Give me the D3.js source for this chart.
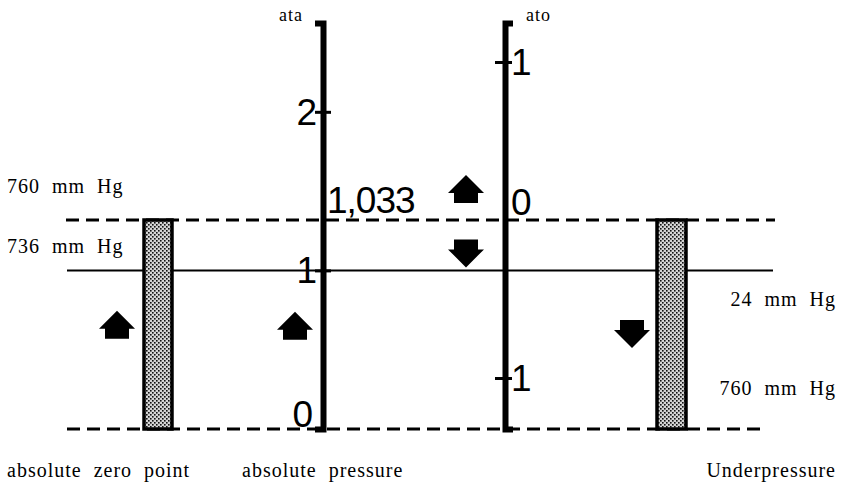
<!DOCTYPE html>
<html>
<head>
<meta charset="utf-8">
<style>
  html, body { margin: 0; padding: 0; background: #fff; }
  svg { display: block; }
  .lbl { font-family: "Liberation Serif", "Times New Roman", serif; font-size: 20px; letter-spacing: 1px; word-spacing: 6px; fill: #000; }
  .num { font-family: "Liberation Sans", Arial, sans-serif; font-size: 37px; fill: #000; }
  .axis .domain { stroke: #000; stroke-width: 6px; }
  .axis line { stroke: #000; stroke-width: 3px; }
  .axis text { font-family: "Liberation Sans", Arial, sans-serif; font-size: 37px; fill: #000; }
</style>
</head>
<body>
<div id="chart"></div>
<script src="https://cdn.jsdelivr.net/npm/d3@7"></script>
<script>

// values on the two pressure axes
var ataTicks = [0, 1, 2];
var atoTicks = [1, 0, -1];
var atmosphereAta = "1,033";

// reference levels (atmospheric = ato 0, absolute zero = ata 0, 736 mm Hg = ata 1)
var refLines = [
  {name: "atmosphere", scale: "ato", value: 0, dashed: true},
  {name: "736", scale: "ata", value: 1, dashed: false},
  {name: "zero", scale: "ata", value: 0, dashed: true}
];

// arrows: column, tip value, direction
var arrows = [
  {col: "zero", scale: "ata", value: 0.745, dir: "up"},
  {col: "abs", scale: "ata", value: 0.74, dir: "up"},
  {col: "gauge", scale: "ato", value: 0.285, dir: "up"},
  {col: "gauge", scale: "ato", value: -0.3, dir: "down"},
  {col: "under", scale: "ato", value: -0.81, dir: "down"}
];

// stippled columns, from atmospheric line down to absolute zero
var columns = ["zero", "under"];

var leftLabels = ["760 mm Hg", "736 mm Hg"];
var rightLabels = ["24 mm Hg", "760 mm Hg"];
var bottomLabels = ["absolute zero point", "absolute pressure", "Underpressure"];

var width = 843, height = 482;

var ata = d3.scaleLinear().domain([0, 2.56]).range([429, 23]);
var ato = d3.scaleLinear().domain([-1.323, 1.247]).range([429, 23]);
var scales = {ata: ata, ato: ato};

var ataX = 323, atoX = 505;
var colX = {zero: 117, abs: 295, gauge: 466, under: 632};
var barX = {zero: [144, 172], under: [657, 686]};
var lineX = {atmosphere: [66, 775], "736": [67, 773], zero: [67, 760]};

var svg = d3.select("#chart").append("svg")
    .attr("width", width)
    .attr("height", height);

var defs = svg.append("defs");
var pat = defs.append("pattern")
    .attr("id", "stipple")
    .attr("patternUnits", "userSpaceOnUse")
    .attr("width", 4)
    .attr("height", 4);
pat.append("rect").attr("width", 4).attr("height", 4).attr("fill", "#d4d4d4");
pat.append("rect").attr("x", 0).attr("y", 0).attr("width", 1.6).attr("height", 1.6).attr("fill", "#111");
pat.append("rect").attr("x", 2).attr("y", 2).attr("width", 1.6).attr("height", 1.6).attr("fill", "#111");

// reference lines
svg.selectAll(".ref")
    .data(refLines)
  .enter().append("line")
    .attr("class", "ref")
    .attr("x1", function(d) { return lineX[d.name][0]; })
    .attr("x2", function(d) { return lineX[d.name][1]; })
    .attr("y1", function(d) { return scales[d.scale](d.value); })
    .attr("y2", function(d) { return scales[d.scale](d.value); })
    .attr("stroke", "#000")
    .attr("stroke-width", function(d) { return d.dashed ? 3 : 2; })
    .attr("stroke-dasharray", function(d) { return d.dashed ? "13,7" : null; });

// stippled columns
svg.selectAll(".col")
    .data(columns)
  .enter().append("rect")
    .attr("class", "col")
    .attr("x", function(d) { return barX[d][0]; })
    .attr("width", function(d) { return barX[d][1] - barX[d][0]; })
    .attr("y", ato(0))
    .attr("height", ata(0) - ato(0))
    .attr("fill", "url(#stipple)")
    .attr("stroke", "#000")
    .attr("stroke-width", 3.5);

// ata axis (absolute pressure)
var gAta = svg.append("g")
    .attr("class", "axis")
    .attr("transform", "translate(" + ataX + ",0)")
    .call(d3.axisLeft(ata).tickValues(ataTicks).tickSizeOuter(0).tickSize(8).tickPadding(5).tickFormat(d3.format("d")));
gAta.selectAll(".tick line").attr("x1", 8).attr("x2", -8)
    .attr("display", function(d) { return d === 0 ? "none" : null; });
gAta.selectAll(".tick text").attr("dy", function(d) { return d === 0 ? "-0.06em" : "0.33em"; })
    .attr("x", function(d) { return d === 0 ? -10 : -6; });

// ato axis (gauge pressure)
var gAto = svg.append("g")
    .attr("class", "axis")
    .attr("transform", "translate(" + atoX + ",0)")
    .call(d3.axisRight(ato).tickValues(atoTicks).tickSizeOuter(0).tickSize(8).tickPadding(5).tickFormat(function(d) { return Math.abs(d); }));
gAto.selectAll(".tick line").attr("x1", -10).attr("x2", 7)
    .attr("display", function(d) { return d === 0 ? "none" : null; });
gAto.selectAll(".tick text").attr("x", 6)
    .attr("dy", function(d) { return d === 0 ? "-0.14em" : "0.35em"; });

svg.append("text")
    .attr("class", "num")
    .attr("x", ataX + 4)
    .attr("y", ato(0) - 7)
    .attr("letter-spacing", -1)
    .text(atmosphereAta);

svg.append("text").attr("class", "lbl").attr("x", 303).attr("y", 21).attr("text-anchor", "end").style("font-size", "18px").text("ata");
svg.append("text").attr("class", "lbl").attr("x", 526).attr("y", 21).style("font-size", "18px").text("ato");

// arrows
var aw = 36, th = 18, sw = 24, sh = 10;
function arrowPath(d) {
  var x = colX[d.col], y = scales[d.scale](d.value);
  var s = d.dir === "up" ? 1 : -1;
  var p = [[x, y], [x + aw / 2, y + s * th], [x + sw / 2, y + s * th], [x + sw / 2, y + s * (th + sh)],
           [x - sw / 2, y + s * (th + sh)], [x - sw / 2, y + s * th], [x - aw / 2, y + s * th]];
  return d3.line()(p) + "Z";
}
svg.selectAll(".arrow")
    .data(arrows)
  .enter().append("path")
    .attr("class", "arrow")
    .attr("d", arrowPath)
    .attr("fill", "#000");

// side labels
svg.selectAll(".left")
    .data(leftLabels)
  .enter().append("text")
    .attr("class", "lbl")
    .attr("x", 7)
    .attr("y", function(d, i) { return [193, 253][i]; })
    .text(function(d) { return d; });

svg.selectAll(".right")
    .data(rightLabels)
  .enter().append("text")
    .attr("class", "lbl")
    .attr("x", 836)
    .attr("text-anchor", "end")
    .attr("y", function(d, i) { return [306, 395][i]; })
    .text(function(d) { return d; });

svg.selectAll(".bottom")
    .data(bottomLabels)
  .enter().append("text")
    .attr("class", "lbl")
    .attr("x", function(d, i) { return [7, 242, 836][i]; })
    .attr("text-anchor", function(d, i) { return i === 2 ? "end" : "start"; })
    .attr("y", 477)
    .text(function(d) { return d; });

</script>
</body>
</html>
